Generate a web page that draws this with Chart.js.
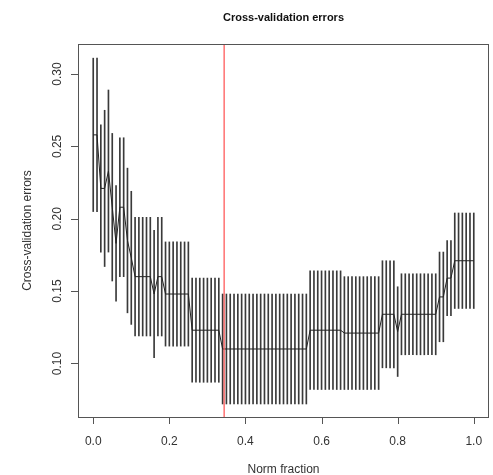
<!DOCTYPE html>
<html>
<head>
<meta charset="utf-8">
<script src="https://cdn.jsdelivr.net/npm/chart.js@4.4.0/dist/chart.umd.min.js"></script>
<style>
  html, body { margin: 0; padding: 0; background: #fff; }
  canvas { display: block; }
</style>
</head>
<body>
<canvas id="cvChart" width="493" height="475"></canvas>
<script>
// norm fraction grid used by the cross-validation
const fraction = [
  0.00, 0.01, 0.02, 0.03, 0.04, 0.05, 0.06, 0.07, 0.08, 0.09,
  0.10, 0.11, 0.12, 0.13, 0.14, 0.15, 0.16, 0.17, 0.18, 0.19,
  0.20, 0.21, 0.22, 0.23, 0.24, 0.25, 0.26, 0.27, 0.28, 0.29,
  0.30, 0.31, 0.32, 0.33, 0.34, 0.35, 0.36, 0.37, 0.38, 0.39,
  0.40, 0.41, 0.42, 0.43, 0.44, 0.45, 0.46, 0.47, 0.48, 0.49,
  0.50, 0.51, 0.52, 0.53, 0.54, 0.55, 0.56, 0.57, 0.58, 0.59,
  0.60, 0.61, 0.62, 0.63, 0.64, 0.65, 0.66, 0.67, 0.68, 0.69,
  0.70, 0.71, 0.72, 0.73, 0.74, 0.75, 0.76, 0.77, 0.78, 0.79,
  0.80, 0.81, 0.82, 0.83, 0.84, 0.85, 0.86, 0.87, 0.88, 0.89,
  0.90, 0.91, 0.92, 0.93, 0.94, 0.95, 0.96, 0.97, 0.98, 0.99,
  1.00
];

// mean cv error at each fraction
const cvError = [
  0.258, 0.258, 0.221, 0.221, 0.233, 0.208, 0.183, 0.208, 0.208, 0.185,
  0.173, 0.160, 0.160, 0.160, 0.160, 0.160, 0.148, 0.160, 0.160, 0.148,
  0.148, 0.148, 0.148, 0.148, 0.148, 0.148, 0.123, 0.123, 0.123, 0.123,
  0.123, 0.123, 0.123, 0.123, 0.110, 0.110, 0.110, 0.110, 0.110, 0.110,
  0.110, 0.110, 0.110, 0.110, 0.110, 0.110, 0.110, 0.110, 0.110, 0.110,
  0.110, 0.110, 0.110, 0.110, 0.110, 0.110, 0.110, 0.123, 0.123, 0.123,
  0.123, 0.123, 0.123, 0.123, 0.123, 0.123, 0.121, 0.121, 0.121, 0.121,
  0.121, 0.121, 0.121, 0.121, 0.121, 0.121, 0.134, 0.134, 0.134, 0.134,
  0.122, 0.134, 0.134, 0.134, 0.134, 0.134, 0.134, 0.134, 0.134, 0.134,
  0.134, 0.146, 0.146, 0.159, 0.159, 0.171, 0.171, 0.171, 0.171, 0.171,
  0.171
];

// standard error (half length of each bar)
const cvSe = [
  0.053, 0.053, 0.044, 0.054, 0.056, 0.051, 0.040, 0.048, 0.048, 0.050,
  0.046, 0.041, 0.041, 0.041, 0.041, 0.041, 0.044, 0.041, 0.041, 0.036,
  0.036, 0.036, 0.036, 0.036, 0.036, 0.036, 0.036, 0.036, 0.036, 0.036,
  0.036, 0.036, 0.036, 0.036, 0.038, 0.038, 0.038, 0.038, 0.038, 0.038,
  0.038, 0.038, 0.038, 0.038, 0.038, 0.038, 0.038, 0.038, 0.038, 0.038,
  0.038, 0.038, 0.038, 0.038, 0.038, 0.038, 0.038, 0.041, 0.041, 0.041,
  0.041, 0.041, 0.041, 0.041, 0.041, 0.041, 0.039, 0.039, 0.039, 0.039,
  0.039, 0.039, 0.039, 0.039, 0.039, 0.039, 0.037, 0.037, 0.037, 0.037,
  0.031, 0.028, 0.028, 0.028, 0.028, 0.028, 0.028, 0.028, 0.028, 0.028,
  0.028, 0.031, 0.031, 0.026, 0.026, 0.033, 0.033, 0.033, 0.033, 0.033,
  0.033
];

const bestFraction = 0.344;
const xTicks = [0.0, 0.2, 0.4, 0.6, 0.8, 1.0];
const yTicks = [0.10, 0.15, 0.20, 0.25, 0.30];
const xRange = [-0.04, 1.04];
const yRange = [0.063, 0.3208];

const errorBars = fraction.map((f, i) => ({ x: f, y: [cvError[i] - cvSe[i], cvError[i] + cvSe[i]] }));
const meanLine = fraction.map((f, i) => ({ x: f, y: cvError[i] }));

const FONT = '"Liberation Sans", Arial, sans-serif';

// R style box, ticks and labels
const rAxes = {
  id: 'rAxes',
  afterDraw(chart) {
    const { ctx, chartArea: a } = chart;
    const x = chart.scales.x;
    const y = chart.scales.y;
    ctx.save();
    ctx.strokeStyle = '#555';
    ctx.lineWidth = 1;
    ctx.strokeRect(a.left + 0.5, a.top + 0.5, a.right - a.left - 1, a.bottom - a.top);

    ctx.beginPath();
    xTicks.forEach(t => {
      const px = Math.round(x.getPixelForValue(t)) + 0.5;
      ctx.moveTo(px, a.bottom);
      ctx.lineTo(px, a.bottom + 7);
    });
    yTicks.forEach(t => {
      const py = Math.round(y.getPixelForValue(t)) + 0.5;
      ctx.moveTo(a.left, py);
      ctx.lineTo(a.left - 7, py);
    });
    ctx.stroke();

    ctx.fillStyle = '#333';
    ctx.font = '12px ' + FONT;
    ctx.textAlign = 'center';
    ctx.textBaseline = 'middle';
    xTicks.forEach(t => ctx.fillText(t.toFixed(1), x.getPixelForValue(t), 442));
    yTicks.forEach(t => {
      ctx.save();
      ctx.translate(58, y.getPixelForValue(t));
      ctx.rotate(-Math.PI / 2);
      ctx.fillText(t.toFixed(2), 0, 0);
      ctx.restore();
    });

    ctx.fillText('Norm fraction', (a.left + a.right) / 2, 470);
    ctx.save();
    ctx.translate(28, (a.top + a.bottom) / 2);
    ctx.rotate(-Math.PI / 2);
    ctx.fillText('Cross-validation errors', 0, 0);
    ctx.restore();

    ctx.fillStyle = '#111';
    ctx.font = 'bold 11px ' + FONT;
    ctx.fillText('Cross-validation errors', (a.left + a.right) / 2, 18);
    ctx.restore();
  }
};

new Chart(document.getElementById('cvChart'), {
  type: 'bar',
  data: {
    datasets: [
      {
        type: 'line',
        data: [{ x: bestFraction, y: yRange[0] }, { x: bestFraction, y: yRange[1] }],
        borderColor: '#ff4d4d',
        borderWidth: 1.2,
        pointRadius: 0,
        order: 0
      },
      {
        type: 'line',
        data: meanLine,
        borderColor: '#222',
        borderWidth: 1,
        pointRadius: 0,
        tension: 0,
        order: 1
      },
      {
        type: 'bar',
        data: errorBars,
        backgroundColor: '#3a3a3a',
        borderWidth: 0,
        barThickness: 1,
        order: 2
      }
    ]
  },
  options: {
    responsive: false,
    animation: false,
    layout: { padding: { left: 78, top: 44, right: 4, bottom: 58 } },
    scales: {
      x: { type: 'linear', min: xRange[0], max: xRange[1], offset: false, display: false },
      y: { type: 'linear', min: yRange[0], max: yRange[1], beginAtZero: false, display: false }
    },
    plugins: {
      legend: { display: false },
      tooltip: { enabled: false }
    }
  },
  plugins: [rAxes]
});
</script>
</body>
</html>
